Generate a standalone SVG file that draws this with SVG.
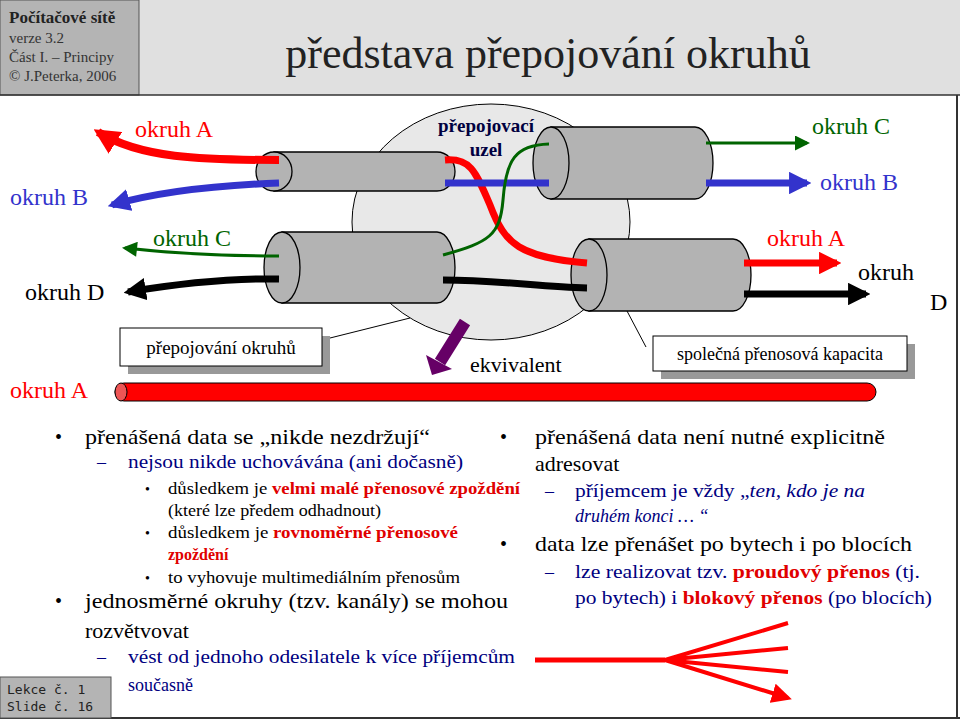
<svg xmlns="http://www.w3.org/2000/svg" width="960" height="720" viewBox="0 0 960 720">
<style>
.cyl{fill:#b3b3b3;stroke:#000;stroke-width:1.3}
.nv{fill:#000080}
.rb{fill:#e00000;font-weight:bold}
</style>
<defs>
<marker id="ah" viewBox="0 0 10 10" refX="8" refY="5" markerWidth="3.2" markerHeight="3.2" orient="auto-start-reverse" markerUnits="strokeWidth"><path d="M0,0L10,5L0,10z" fill="context-stroke"/></marker>
<marker id="ahg" viewBox="0 0 10 10" refX="8" refY="5" markerWidth="6" markerHeight="5" orient="auto" markerUnits="strokeWidth"><path d="M0,0L10,5L0,10z" fill="#006400"/></marker>
<marker id="ahr" viewBox="0 0 10 10" refX="8" refY="5" markerWidth="5" markerHeight="5" orient="auto" markerUnits="strokeWidth"><path d="M0,0L10,5L0,10z" fill="#f00"/></marker>
</defs>
<rect width="960" height="720" fill="#fff"/>
<g font-family="'Liberation Serif', 'DejaVu Serif', serif">
<g id="header">
<rect x="138" y="0" width="822" height="95" fill="#e0e0e0"/>
<rect x="0" y="0" width="139" height="95" fill="#b4b4b4" stroke="#555"/>
<line x1="0" y1="95" x2="960" y2="95" stroke="#333" stroke-width="1.5"/>
<text x="9" y="23" font-size="17" font-weight="bold" fill="#222">Počítačové sítě</text>
<text x="9" y="43" font-size="15" fill="#333">verze 3.2</text>
<text x="9" y="62" font-size="15" fill="#333">Část I. – Principy</text>
<text x="9" y="81" font-size="15" fill="#333">© J.Peterka, 2006</text>
<text x="548" y="68" font-size="44" fill="#222" text-anchor="middle">představa přepojování okruhů</text>
</g>
<line x1="957" y1="95" x2="957" y2="718" stroke="#333" stroke-width="2"/>
<line x1="0" y1="718" x2="960" y2="718" stroke="#333" stroke-width="2"/>
<g id="node">
<ellipse cx="491" cy="222" rx="139" ry="118" fill="#e8e8e8" stroke="#000" stroke-width="1"/>
<text x="486" y="132" font-size="19" font-weight="bold" fill="#000040" text-anchor="middle">přepojovací</text>
<text x="486" y="156" font-size="19" font-weight="bold" fill="#000040" text-anchor="middle">uzel</text>
</g>
<g id="cylinders">
<path class="cyl" d="M274,152H437A18,19.5 0 0 1 437,191H274z"/><ellipse class="cyl" cx="274" cy="171.5" rx="18" ry="19.5"/>
<path class="cyl" d="M282,232H437A18,35.5 0 0 1 437,303H282z"/><ellipse class="cyl" cx="282" cy="267.5" rx="18" ry="35.5"/>
<path class="cyl" d="M551,127H695A18,36 0 0 1 695,199H551z"/><ellipse class="cyl" cx="551" cy="163" rx="18" ry="36"/>
<path class="cyl" d="M589,239H733A18,36 0 0 1 733,311H589z"/><ellipse class="cyl" cx="589" cy="275" rx="18" ry="36"/>
</g>
<g id="connectors" fill="none">
<path d="M279,160C200,160 140,158 98,132" stroke="#f00" stroke-width="8" marker-end="url(#ah)"/>
<path d="M279,183C200,186 150,194 112,205" stroke="#3333cc" stroke-width="7" marker-end="url(#ah)"/>
<path d="M279,256C220,256 170,253 125,248" stroke="#006400" stroke-width="3" marker-end="url(#ahg)"/>
<path d="M279,279C220,278 170,285 128,292" stroke="#000" stroke-width="7" marker-end="url(#ah)"/>
<path d="M445,160C470,158 475,170 490,205C505,245 520,257 587,263" stroke="#f00" stroke-width="7"/>
<path d="M445,183H549" stroke="#3333cc" stroke-width="7"/>
<path d="M443,255C490,242 500,235 503,200C506,160 515,145 549,144" stroke="#006400" stroke-width="3"/>
<path d="M443,280C500,280 540,287 587,288" stroke="#000" stroke-width="7"/>
<path d="M706,143H807" stroke="#006400" stroke-width="3" marker-end="url(#ahg)"/>
<path d="M706,183H807" stroke="#3333cc" stroke-width="7" marker-end="url(#ah)"/>
<path d="M744,263H837" stroke="#f00" stroke-width="7" marker-end="url(#ah)"/>
<path d="M744,294H866" stroke="#000" stroke-width="7" marker-end="url(#ah)"/>
<path d="M465,322L440,362" stroke="#660066" stroke-width="12"/>
<path d="M426,355L432,375L452,369z" fill="#660066"/>
<line x1="330" y1="338" x2="410" y2="318" stroke="#000"/>
<line x1="627" y1="311" x2="646" y2="347" stroke="#000"/>
<line x1="535" y1="660" x2="665" y2="660" stroke="#f00" stroke-width="5"/>
<path d="M665,660L788,623M665,660L788,648M665,660L788,672M665,660L788,698" stroke="#f00" stroke-width="4" marker-end="url(#ahr)"/>
</g>
<g id="labels" font-size="24">
<text x="135" y="137" fill="#f00">okruh A</text>
<text x="10" y="205" fill="#3333cc">okruh B</text>
<text x="153" y="246" fill="#006400">okruh C</text>
<text x="25" y="300" fill="#000">okruh D</text>
<text x="812" y="134" fill="#006400">okruh C</text>
<text x="820" y="190" fill="#3333cc">okruh B</text>
<text x="767" y="246" fill="#f00">okruh A</text>
<text x="858" y="280" fill="#000">okruh</text>
<text x="930" y="310" fill="#000">D</text>
<text x="470" y="372" fill="#000" font-size="22">ekvivalent</text>
<text x="10" y="398" fill="#f00">okruh A</text>
</g>
<g id="box1">
<rect x="128" y="336" width="202" height="38" fill="#999"/>
<rect x="120" y="328" width="202" height="38" fill="#fff" stroke="#000"/>
<text x="221" y="354" font-size="19" text-anchor="middle">přepojování okruhů</text>
</g>
<g id="box2">
<rect x="661" y="344" width="254" height="35" fill="#999"/>
<rect x="653" y="336" width="254" height="35" fill="#fff" stroke="#000"/>
<text x="780" y="360" font-size="18" text-anchor="middle">společná přenosová kapacita</text>
</g>
<g id="bar">
<rect x="115" y="383" width="761" height="18" rx="9" fill="#f00" stroke="#000"/>
<ellipse cx="121" cy="392" rx="6" ry="9" fill="#e55" stroke="#000"/>
</g>
<g id="text">
<text x="55" y="444" font-size="20">•</text>
<text x="85" y="444" font-size="22" textLength="345" lengthAdjust="spacingAndGlyphs">přenášená data se „nikde nezdržují“</text>
<text x="97" y="468" font-size="18" class="nv">–</text>
<text x="128" y="468" font-size="18" class="nv" textLength="335" lengthAdjust="spacingAndGlyphs">nejsou nikde uchovávána (ani dočasně)</text>
<text x="145" y="494" font-size="14">•</text>
<text x="168" y="494" font-size="16" textLength="352" lengthAdjust="spacingAndGlyphs">důsledkem je <tspan class="rb">velmi malé přenosové zpoždění</tspan></text>
<text x="168" y="516" font-size="16" textLength="213" lengthAdjust="spacingAndGlyphs">(které lze předem odhadnout)</text>
<text x="145" y="538" font-size="14">•</text>
<text x="168" y="538" font-size="16" textLength="290" lengthAdjust="spacingAndGlyphs">důsledkem je <tspan class="rb">rovnoměrné přenosové</tspan></text>
<text x="168" y="560" font-size="16" class="rb">zpoždění</text>
<text x="145" y="583" font-size="14">•</text>
<text x="168" y="583" font-size="16" textLength="292" lengthAdjust="spacingAndGlyphs">to vyhovuje multimediálním přenosům</text>
<text x="55" y="608" font-size="20">•</text>
<text x="85" y="608" font-size="22" textLength="423" lengthAdjust="spacingAndGlyphs">jednosměrné okruhy (tzv. kanály) se mohou</text>
<text x="85" y="638" font-size="22">rozvětvovat</text>
<text x="97" y="663" font-size="18" class="nv">–</text>
<text x="128" y="663" font-size="18" class="nv" textLength="387" lengthAdjust="spacingAndGlyphs">vést od jednoho odesilatele k více příjemcům</text>
<text x="128" y="691" font-size="18" class="nv">současně</text>
<text x="500" y="444" font-size="20">•</text>
<text x="535" y="444" font-size="22" textLength="350" lengthAdjust="spacingAndGlyphs">přenášená data není nutné explicitně</text>
<text x="535" y="471" font-size="22">adresovat</text>
<text x="545" y="497" font-size="18" class="nv">–</text>
<text x="575" y="497" font-size="18" class="nv" textLength="290" lengthAdjust="spacingAndGlyphs">příjemcem je vždy „<tspan font-style="italic">ten, kdo je na</tspan></text>
<text x="575" y="522" font-size="18" class="nv" font-style="italic">druhém konci … “</text>
<text x="500" y="551" font-size="20">•</text>
<text x="535" y="551" font-size="22" textLength="377" lengthAdjust="spacingAndGlyphs">data lze přenášet po bytech i po blocích</text>
<text x="545" y="578" font-size="18" class="nv">–</text>
<text x="575" y="578" font-size="18" class="nv" textLength="345" lengthAdjust="spacingAndGlyphs">lze realizovat tzv. <tspan class="rb">proudový přenos</tspan> (tj.</text>
<text x="575" y="604" font-size="18" class="nv" textLength="357" lengthAdjust="spacingAndGlyphs">po bytech) i <tspan class="rb">blokový přenos</tspan> (po blocích)</text>
</g>
</g>
<g id="footer">
<rect x="0" y="677" width="111" height="41" fill="#b4b4b4" stroke="#555"/>
<text font-family="DejaVu Sans Mono, monospace" x="7" y="694" font-size="13" fill="#222">Lekce č. 1</text>
<text font-family="DejaVu Sans Mono, monospace" x="7" y="711" font-size="13" fill="#222">Slide č. 16</text>
</g>
</svg>
